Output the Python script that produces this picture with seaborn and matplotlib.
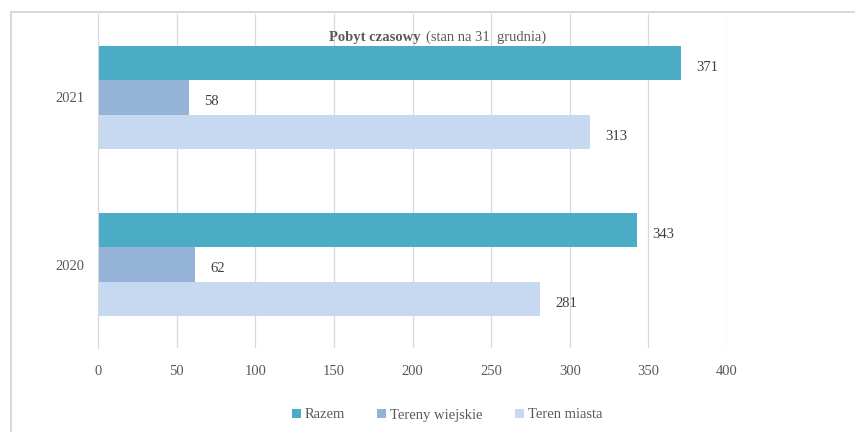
import numpy as np
import pandas as pd
import seaborn as sns
import matplotlib.pyplot as plt
from matplotlib.lines import Line2D

years = ["2021", "2020"]
series = ["Razem", "Tereny wiejskie", "Teren miasta"]
razem = [371, 343]
tereny_wiejskie = [58, 62]
teren_miasta = [313, 281]
x_ticks = [0, 50, 100, 150, 200, 250, 300, 350, 400]
colors = ["#4BACC6", "#95B3D7", "#C6D9F1"]

df = pd.DataFrame({
    "rok": years * 3,
    "seria": np.repeat(series, len(years)),
    "wartosc": razem + tereny_wiejskie + teren_miasta,
})

sns.set_style("white")
plt.rcParams["font.family"] = ["Liberation Serif", "DejaVu Serif"]

fig = plt.figure(figsize=(8.55, 4.32), dpi=100)
ax = fig.add_axes([98 / 855, 1 - 348 / 432, (727 - 98) / 855, (348 - 14) / 432])

sns.barplot(data=df, y="rok", x="wartosc", hue="seria", order=years,
            hue_order=series, palette=colors, orient="h", width=0.62,
            saturation=1, linewidth=0, ax=ax, legend=True)

ax.set_xlim(0, 400)
ax.set_xticks(x_ticks)
ax.grid(axis="x", color="#d9d9d9", linewidth=0.9)
ax.set_axisbelow(True)
for s in ["top", "right", "bottom"]:
    ax.spines[s].set_visible(False)
ax.spines["left"].set_color("#d9d9d9")
ax.set_xlabel("")
ax.set_ylabel("")
ax.tick_params(axis="both", length=0, labelsize=10.5, labelcolor="#595959")
ax.tick_params(axis="y", pad=10)
ax.tick_params(axis="x", pad=12)

for cont in ax.containers:
    labels = ax.bar_label(cont, fmt="%d", padding=11, fontsize=10.5,
                          color="#404040")
    for t in labels:
        t.xyann = (11, -3)

handles, labels = ax.get_legend_handles_labels()
ax.legend_.remove()
fig.legend(handles, labels, loc="center", bbox_to_anchor=(0.523, 1 - 415 / 432),
           ncol=3, frameon=False, fontsize=10.5, handlelength=0.6,
           handleheight=0.6, handletextpad=0.3, columnspacing=2.2,
           labelcolor="#595959")

fig.text(421 / 855, 1 - 37 / 432, "Pobyt czasowy", ha="right", va="center",
         fontsize=10.5, fontweight="bold", color="#595959")
fig.text(426 / 855, 1 - 37 / 432, "(stan na 31  grudnia)", ha="left",
         va="center", fontsize=10.5, color="#595959")

# only top and left edges of the outer frame are visible
top = 1 - 11.5 / 432
left = 10.5 / 855
fig.lines.append(Line2D([left, 1], [top, top], transform=fig.transFigure,
                        color="#d9d9d9", linewidth=1.5))
fig.lines.append(Line2D([left, left], [0, top], transform=fig.transFigure,
                        color="#d9d9d9", linewidth=1.5))

fig.savefig("out.png", dpi=100)
